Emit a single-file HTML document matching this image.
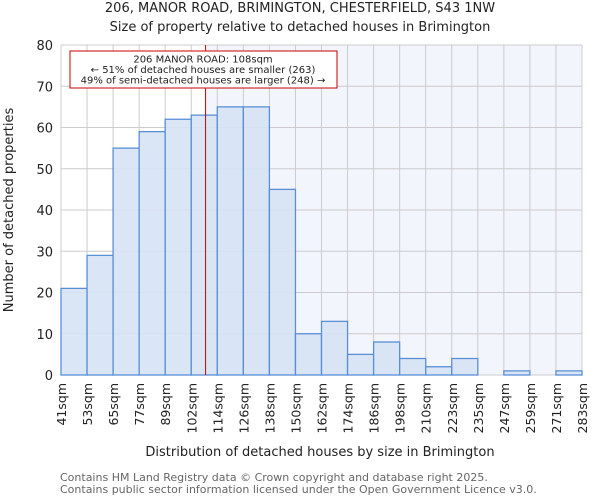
<!DOCTYPE html>
<html><head><meta charset="utf-8"><style>
body{margin:0;background:#fff;font-family:"DejaVu Sans","Liberation Sans",sans-serif;}
svg text{font-family:"DejaVu Sans","Liberation Sans",sans-serif;}
</style></head><body>
<svg id="chart" width="600" height="500" xmlns="http://www.w3.org/2000/svg">
<text x="300" y="12" text-anchor="middle" font-size="13" fill="#222">206, MANOR ROAD, BRIMINGTON, CHESTERFIELD, S43 1NW</text>
<text x="300" y="31" text-anchor="middle" font-size="13" fill="#222">Size of property relative to detached houses in Brimington</text>
<g id="plot"></g>
<text transform="translate(13,210) rotate(-90)" text-anchor="middle" font-size="13" fill="#222">Number of detached properties</text>
<text x="320" y="456" text-anchor="middle" font-size="13" fill="#222">Distribution of detached houses by size in Brimington</text>
<text x="60" y="481" font-size="11" fill="#666">Contains HM Land Registry data © Crown copyright and database right 2025.</text>
<text x="60" y="493" font-size="11" fill="#666">Contains public sector information licensed under the Open Government Licence v3.0.</text>
</svg>
<script>
const binLabels=["41sqm","53sqm","65sqm","77sqm","89sqm","102sqm","114sqm","126sqm","138sqm","150sqm","162sqm","174sqm","186sqm","198sqm","210sqm","223sqm","235sqm","247sqm","259sqm","271sqm","283sqm"];
const counts=[21,29,55,59,62,63,65,65,45,10,13,5,8,4,2,4,0,1,0,1];
const yTicks=[0,10,20,30,40,50,60,70,80];
const markerIndex=5.55;
const NS="http://www.w3.org/2000/svg";
const L=61,R=582,T=45,B=375,YMAX=80;
const n=counts.length,bw=(R-L)/n;
const xs=i=>L+i*bw;
const ys=v=>B-(v/YMAX)*(B-T);
const g=document.getElementById('plot');
function mk(tag,a){const e=document.createElementNS(NS,tag);for(const k in a)e.setAttribute(k,a[k]);g.appendChild(e);return e;}
const mx=xs(markerIndex);
let bg=mk('rect',{x:mx,y:T,width:R-mx,height:B-T,fill:'#f2f5fc'});


yTicks.forEach(v=>{
 let l=mk('line',{x1:L,x2:R,y1:ys(v),y2:ys(v),stroke:'#cccccc','stroke-width':1});
 
 
 let t=mk('text',{x:L-8,y:ys(v)+5,'text-anchor':'end','font-size':13,fill:'#222'});
 t.textContent=v;
 
 
});
binLabels.forEach((s,i)=>{
 let l=mk('line',{x1:xs(i),x2:xs(i),y1:T,y2:B,stroke:'#cccccc','stroke-width':1});
 
 
 let t=mk('text',{transform:`translate(${xs(i)+5},383) rotate(-90)`,'text-anchor':'end','font-size':12.5,fill:'#222'});
 t.textContent=s;
 
 
});
counts.forEach((v,i)=>{
 if(v<=0)return;
 let r=mk('rect',{x:xs(i),y:ys(v),width:bw,height:B-ys(v),fill:'#d6e2f4','fill-opacity':0.9,stroke:'#5a8fd6','stroke-width':1.3});
 
 
});
let ml=mk('line',{x1:mx,x2:mx,y1:T,y2:B,stroke:'#cc0000','stroke-width':1});


let box=mk('rect',{x:70,y:51,width:267,height:37,fill:'#fff',stroke:'#cc0000','stroke-width':1});


["206 MANOR ROAD: 108sqm","← 51% of detached houses are smaller (263)","49% of semi-detached houses are larger (248) →"].forEach((s,k)=>{
 let t=mk('text',{x:203,y:62.5+k*10.5,'text-anchor':'middle','font-size':10,fill:'#222'});
 t.textContent=s;
 
 
});
</script>
</body></html>
